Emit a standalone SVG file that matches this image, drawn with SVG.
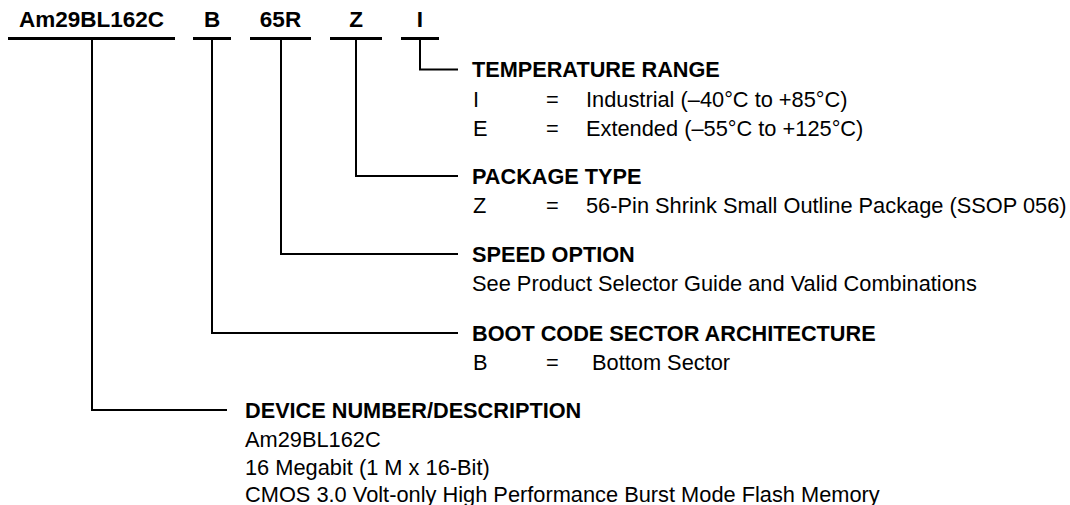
<svg xmlns="http://www.w3.org/2000/svg" width="1070" height="505" viewBox="0 0 1070 505">
<style>
text{font-family:"Liberation Sans",Arial,Helvetica,sans-serif;fill:#000}
.code{font-weight:bold;font-size:22.5px;text-anchor:middle}
.hd{font-weight:bold;font-size:21.7px}
.tx{font-size:21.8px}
.ul{stroke:#000;stroke-width:3;fill:none}
.ln{stroke:#000;stroke-width:2;fill:none}
</style>
<rect width="1070" height="505" fill="#fff"/>
<g id="codes">
<text class="code" x="91.5" y="27">Am29BL162C</text>
<text class="code" x="212" y="27">B</text>
<text class="code" x="280.5" y="27">65R</text>
<text class="code" x="356" y="27">Z</text>
<text class="code" x="420" y="27">I</text>
<line class="ul" x1="8" y1="38.5" x2="175" y2="38.5"/>
<line class="ul" x1="193" y1="38.5" x2="231" y2="38.5"/>
<line class="ul" x1="250" y1="38.5" x2="311" y2="38.5"/>
<line class="ul" x1="330" y1="38.5" x2="382" y2="38.5"/>
<line class="ul" x1="401" y1="38.5" x2="439" y2="38.5"/>
</g>
<g id="connectors">
<polyline class="ln" points="420,40 420,69.5 458,69.5"/>
<polyline class="ln" points="356,40 356,176 458,176"/>
<polyline class="ln" points="281,40 281,254 458,254"/>
<polyline class="ln" points="212,40 212,333 458,333"/>
<polyline class="ln" points="92,40 92,410 227,410"/>
</g>
<g id="temperature">
<text class="hd" x="472" y="77">TEMPERATURE RANGE</text>
<text class="tx" x="473" y="106.5">I</text>
<text class="tx" x="546" y="106.5">=</text>
<text class="tx" x="586" y="106.5">Industrial (–40°C to +85°C)</text>
<text class="tx" x="473" y="136">E</text>
<text class="tx" x="546" y="136">=</text>
<text class="tx" x="586" y="136">Extended (–55°C to +125°C)</text>
</g>
<g id="package">
<text class="hd" x="472" y="183.5">PACKAGE TYPE</text>
<text class="tx" x="473" y="213">Z</text>
<text class="tx" x="546" y="213">=</text>
<text class="tx" x="586" y="213">56-Pin Shrink Small Outline Package (SSOP 056)</text>
</g>
<g id="speed">
<text class="hd" x="472" y="261.5">SPEED OPTION</text>
<text class="tx" x="472" y="291">See Product Selector Guide and Valid Combinations</text>
</g>
<g id="boot">
<text class="hd" x="472" y="340.5">BOOT CODE SECTOR ARCHITECTURE</text>
<text class="tx" x="473" y="370">B</text>
<text class="tx" x="546" y="370">=</text>
<text class="tx" x="592" y="370">Bottom Sector</text>
</g>
<g id="device">
<text class="hd" x="245" y="417.5">DEVICE NUMBER/DESCRIPTION</text>
<text class="tx" x="245" y="447">Am29BL162C</text>
<text class="tx" x="245" y="474.5">16 Megabit (1 M x 16-Bit)</text>
<text class="tx" x="245" y="501.5">CMOS 3.0 Volt-only High Performance Burst Mode Flash Memory</text>
</g>
</svg>
